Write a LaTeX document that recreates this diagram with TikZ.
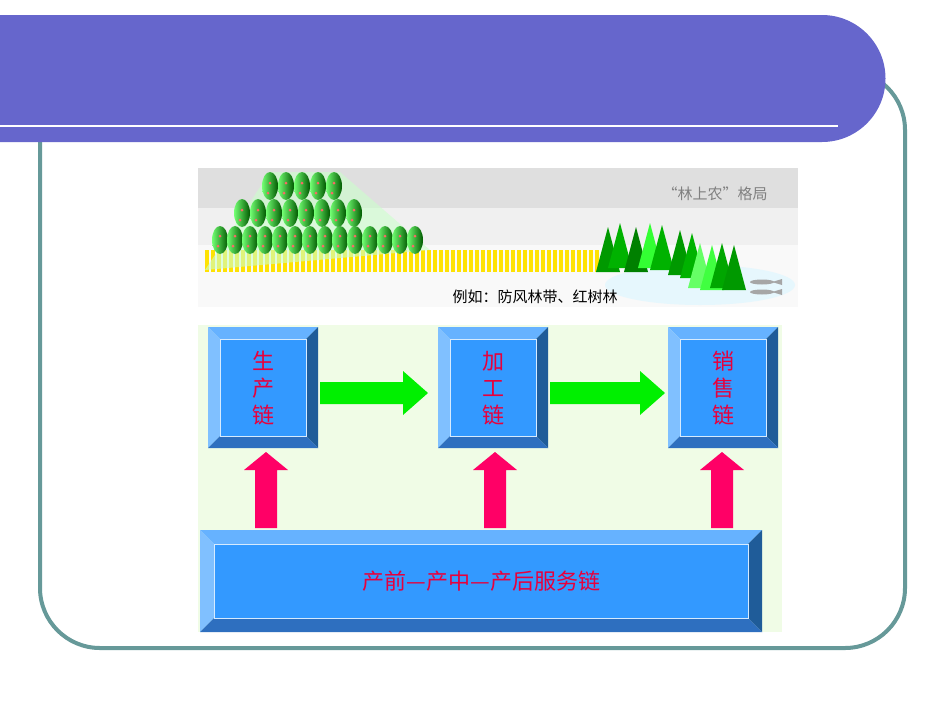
\documentclass[tikz,border=0pt]{standalone}
\usetikzlibrary{shapes.geometric}
\usepackage{fontspec}
\setmainfont{Liberation Serif}
\newfontfamily\cjk{Noto Sans CJK SC}
\newfontfamily\cjkb[AutoFakeBold=2]{Noto Sans CJK SC}
\definecolor{ban}{HTML}{6666CC}
\definecolor{teal}{HTML}{669999}
\definecolor{face}{HTML}{3399FF}
\definecolor{btop}{HTML}{66B2FF}
\definecolor{bleft}{HTML}{80C0FF}
\definecolor{bright}{HTML}{1F5C99}
\definecolor{bbot}{HTML}{2E6FBF}
\definecolor{redt}{HTML}{E8003C}
\definecolor{garr}{HTML}{00F000}
\definecolor{parr}{HTML}{FF0066}
\definecolor{pale}{HTML}{F0FCE6}
\newcommand{\bevbox}[6]{% name,x1,y1,x2,y2,b
  \fill[btop] (#2,#3) -- (#4,#3) -- (#4-#6,#3+#6) -- (#2+#6,#3+#6) -- cycle;
  \fill[bleft] (#2,#3) -- (#2+#6,#3+#6) -- (#2+#6,#5-#6) -- (#2,#5) -- cycle;
  \fill[bright] (#4,#3) -- (#4,#5) -- (#4-#6,#5-#6) -- (#4-#6,#3+#6) -- cycle;
  \fill[bbot] (#2,#5) -- (#4,#5) -- (#4-#6,#5-#6) -- (#2+#6,#5-#6) -- cycle;
  \node[fill=face,draw=white!80!face,line width=0.8pt,minimum width={#4-#2-2*#6},minimum height={#5-#3-2*#6},inner sep=0,anchor=north west] (#1) at (#2+#6,#3+#6) {};
}
\begin{document}
\begin{tikzpicture}[x=1pt,y=-1pt,
  chain/.style={font=\cjkb\fontsize{22}{27}\selectfont, text=redt, align=center},
  tree/.style={ellipse,inner sep=0,minimum width=16,minimum height=28,left color=green!55!white,right color=green!35!black,draw=none}]
\useasboundingbox (0,0) rectangle (950,713);
\fill[white] (0,0) rectangle (950,713);
\draw[teal,line width=4,rounded corners=60] (40,70) rectangle (905,648);
\fill[ban] (0,15) -- (822,15) arc[start angle=-90,end angle=90,radius=63.5] -- (0,142) -- cycle;
\draw[white,line width=2.5] (0,126) -- (838,126);
% top image
\fill[gray!25] (198,168) rectangle (798,208);
\fill[gray!12] (198,208) rectangle (798,245);
\fill[gray!5] (198,245) rectangle (798,307);
\node[font=\cjk\fontsize{15}{18}\selectfont,text=gray] (t1) at (715,194) {“林上农”格局};
\foreach \i in {0,...,65} \fill[yellow!85!orange] (205+\i*6,250) rectangle (208.5+\i*6,272);
\fill[green!20!white,opacity=.6] (205,270) -- (270,172) -- (340,172) -- (430,250) -- cycle;
\foreach \i in {0,...,13} \node[tree] (r3\i) at (220+\i*15,240) {};
\foreach \i in {0,...,7} \node[tree] (r2\i) at (242+\i*16,213) {};
\foreach \i in {0,...,4} \node[tree] (r1\i) at (270+\i*16,186) {};
\foreach \i in {0,...,13} {\fill[red!60] (220+\i*15,236) circle (1.5); \fill[red!60] (218+\i*15,246) circle (1.5);}
\foreach \i in {0,...,7} {\fill[red!60] (242+\i*16,210) circle (1.5); \fill[red!60] (240+\i*16,220) circle (1.5);}
\foreach \i in {0,...,4} {\fill[red!60] (270+\i*16,183) circle (1.5); \fill[red!60] (268+\i*16,193) circle (1.5);}
\fill[cyan!10] (700,285) ellipse (95 and 20);
\foreach \x/\y/\c in {608/272/green!60!black,620/268/green!70!black,636/272/green!50!black,650/268/green!80,662/270/green!70!black,680/275/green!60!black,692/278/green!70!black,700/288/green!60,712/290/green!75!white,722/288/green!65!black,734/290/green!60!black}
  \fill[\c] (\x-12,\y) -- (\x,\y-45) -- (\x+12,\y) -- cycle;
\foreach \y in {282,292} {\fill[gray!70] (762,\y) ellipse (12 and 2.5); \fill[gray!70] (772,\y) -- (782,\y-3) -- (782,\y+3) -- cycle;}
\node[font=\cjk\fontsize{15}{18}\selectfont] (t2) at (535,297) {例如：防风林带、红树林};
% lower panel
\fill[pale] (198,325) rectangle (782,632);
\bevbox{b1}{208}{327}{318}{448}{12}
\bevbox{b2}{438}{327}{548}{448}{12}
\bevbox{b3}{668}{327}{778}{448}{12}
\bevbox{b4}{200}{530}{762}{632}{14}
\node[chain] at (b1) {生\\产\\链};
\node[chain] at (b2) {加\\工\\链};
\node[chain] at (b3) {销\\售\\链};
\node[chain] at (b4) {产前—产中—产后服务链};
\fill[garr] (320,382) -- (403,382) -- (403,371) -- (428,393) -- (403,415) -- (403,404) -- (320,404) -- cycle;
\fill[garr] (550,382) -- (640,382) -- (640,371) -- (665,393) -- (640,415) -- (640,404) -- (550,404) -- cycle;
\foreach \x in {266,495,722}
  \fill[parr] (\x-11,528) -- (\x-11,470) -- (\x-22,470) -- (\x,452) -- (\x+22,470) -- (\x+11,470) -- (\x+11,528) -- cycle;
\end{tikzpicture}
\end{document}
